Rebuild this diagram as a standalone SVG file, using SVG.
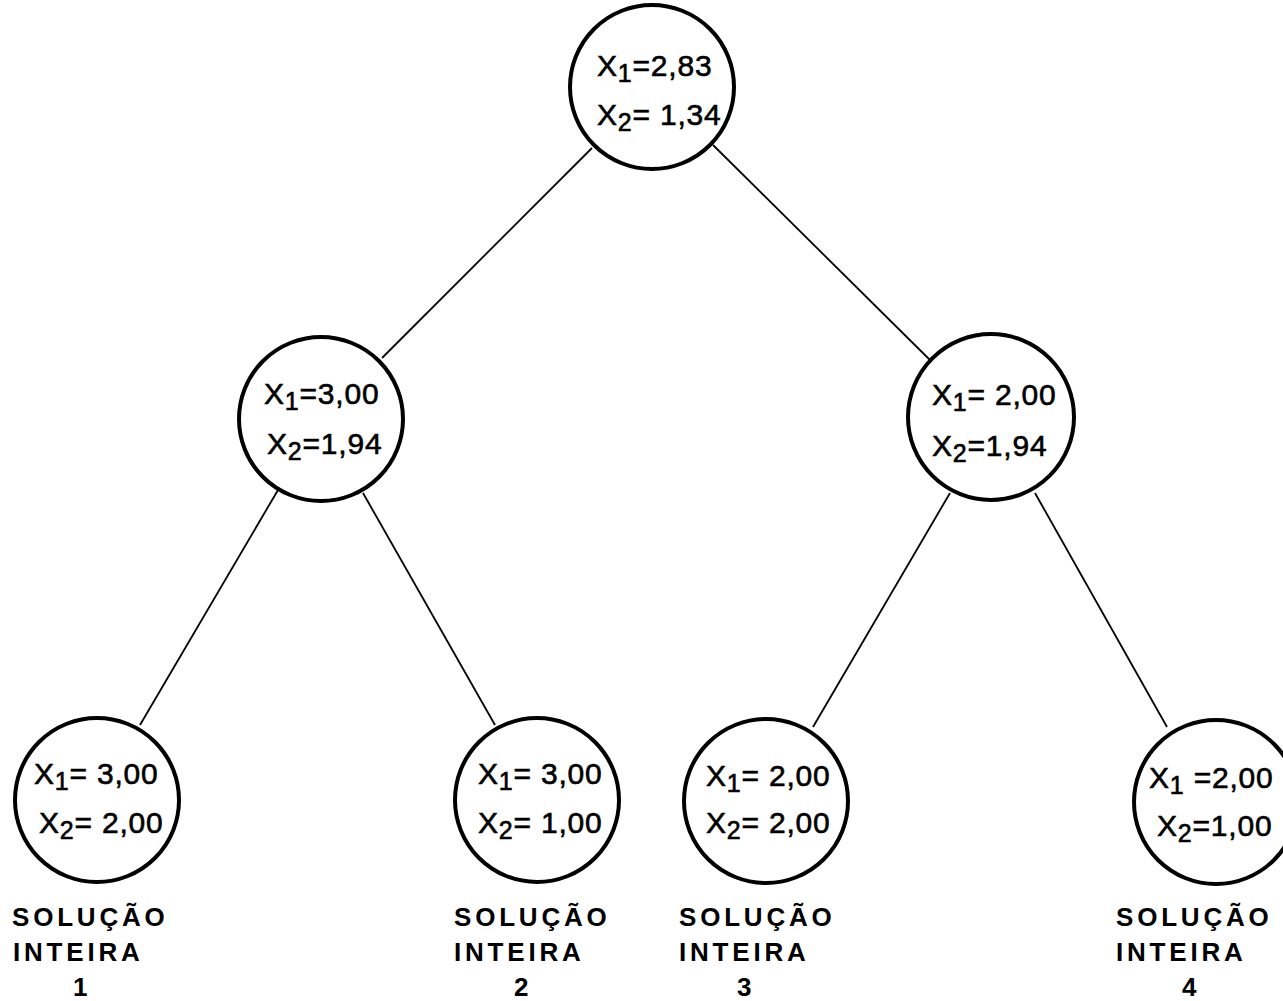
<svg xmlns="http://www.w3.org/2000/svg" width="1283" height="1001" viewBox="0 0 1283 1001">
<style>
.node{fill:#fff;stroke:#000;stroke-width:4}
.edge{stroke:#000;stroke-width:1.8;fill:none}
.v{font-family:"Liberation Sans",Arial,sans-serif;font-size:30px;fill:#000;stroke:#000;stroke-width:0.6;letter-spacing:0.8px}
.s{font-size:25px}
.lab{font-family:"Liberation Sans",Arial,sans-serif;font-weight:bold;font-size:26px;fill:#000;letter-spacing:3.8px}
</style>
<rect width="1283" height="1001" fill="#fff"/>
<g id="connectors">
<line class="edge" x1="592" y1="148" x2="382" y2="358"/>
<line class="edge" x1="713" y1="145" x2="932" y2="362"/>
<line class="edge" x1="278" y1="490" x2="140" y2="725"/>
<line class="edge" x1="363" y1="493" x2="495" y2="725"/>
<line class="edge" x1="950" y1="493" x2="813" y2="727"/>
<line class="edge" x1="1035" y1="493" x2="1167" y2="727"/>
</g>
<g id="root">
<circle class="node" cx="652" cy="87" r="82"/>
<text class="v" x="597" y="76">X<tspan class="s" dy="6">1</tspan><tspan dy="-6">=2,83</tspan></text>
<text class="v" x="597" y="125">X<tspan class="s" dy="6">2</tspan><tspan dy="-6">= 1,34</tspan></text>
</g>
<g id="left">
<circle class="node" cx="321" cy="419" r="82"/>
<text class="v" x="264" y="404">X<tspan class="s" dy="6">1</tspan><tspan dy="-6">=3,00</tspan></text>
<text class="v" x="267" y="454">X<tspan class="s" dy="6">2</tspan><tspan dy="-6">=1,94</tspan></text>
</g>
<g id="right">
<circle class="node" cx="991" cy="417" r="83"/>
<text class="v" x="932" y="405">X<tspan class="s" dy="6">1</tspan><tspan dy="-6">= 2,00</tspan></text>
<text class="v" x="932" y="456">X<tspan class="s" dy="6">2</tspan><tspan dy="-6">=1,94</tspan></text>
</g>
<g id="leaf1">
<circle class="node" cx="97" cy="800" r="82"/>
<text class="v" x="34" y="784">X<tspan class="s" dy="6">1</tspan><tspan dy="-6">= 3,00</tspan></text>
<text class="v" x="39" y="833">X<tspan class="s" dy="6">2</tspan><tspan dy="-6">= 2,00</tspan></text>
<text class="lab" x="12" y="926">SOLUÇÃO</text>
<text class="lab" x="13" y="961">INTEIRA</text>
<text class="lab" x="73" y="996">1</text>
</g>
<g id="leaf2">
<circle class="node" cx="537" cy="800" r="82"/>
<text class="v" x="478" y="784">X<tspan class="s" dy="6">1</tspan><tspan dy="-6">= 3,00</tspan></text>
<text class="v" x="478" y="833">X<tspan class="s" dy="6">2</tspan><tspan dy="-6">= 1,00</tspan></text>
<text class="lab" x="454" y="926">SOLUÇÃO</text>
<text class="lab" x="454" y="961">INTEIRA</text>
<text class="lab" x="514" y="996">2</text>
</g>
<g id="leaf3">
<circle class="node" cx="766" cy="801" r="82"/>
<text class="v" x="706" y="786">X<tspan class="s" dy="6">1</tspan><tspan dy="-6">= 2,00</tspan></text>
<text class="v" x="706" y="833">X<tspan class="s" dy="6">2</tspan><tspan dy="-6">= 2,00</tspan></text>
<text class="lab" x="679" y="926">SOLUÇÃO</text>
<text class="lab" x="679" y="961">INTEIRA</text>
<text class="lab" x="737" y="996">3</text>
</g>
<g id="leaf4">
<circle class="node" cx="1216" cy="802" r="82"/>
<text class="v" x="1149" y="788">X<tspan class="s" dy="6">1</tspan><tspan dy="-6"> =2,00</tspan></text>
<text class="v" x="1157" y="836">X<tspan class="s" dy="6">2</tspan><tspan dy="-6">=1,00</tspan></text>
<text class="lab" x="1116" y="926">SOLUÇÃO</text>
<text class="lab" x="1116" y="961">INTEIRA</text>
<text class="lab" x="1182" y="996">4</text>
</g>
</svg>
